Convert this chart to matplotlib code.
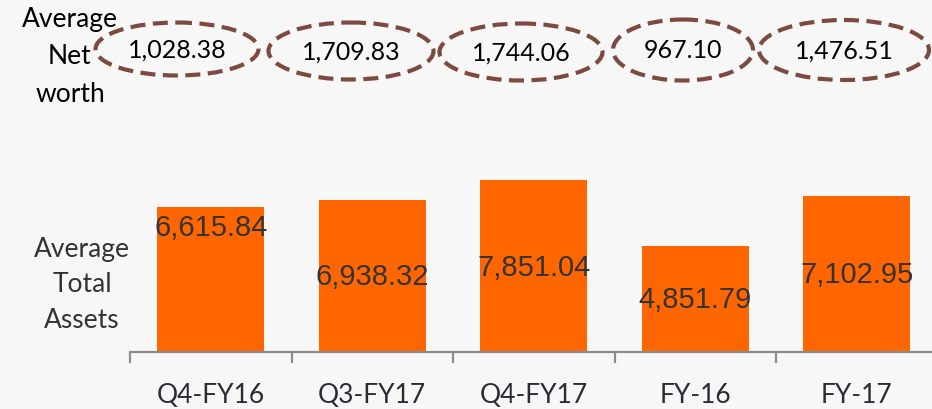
"""
Average net worth (ovals) and average total assets (bars) by period.
"""
import matplotlib
import matplotlib.pyplot as plt
from matplotlib.patches import Ellipse

# data
periods = ['Q4-FY16', 'Q3-FY17', 'Q4-FY17', 'FY-16', 'FY-17']
total_assets = [6615.84, 6938.32, 7851.04, 4851.79, 7102.95]
net_worth = [1028.38, 1709.83, 1744.06, 967.10, 1476.51]

# layout (pixels / data units)
label_y = [5650, 3420, 3830, 2370, 3510]
oval_x = [177, 351, 521, 683, 844]
oval_y = [49, 51, 52, 50, 50]
oval_w = [163, 165, 163, 140, 170]
oval_h = [53, 57, 57, 61, 60]

bg = '#f7f7f7'
bar_col = '#ff6600'
oval_col = '#7d4a3f'
axis_col = '#8c8c8c'
calibri = ['Lato', 'DejaVu Sans']
arial = ['Liberation Sans', 'DejaVu Sans']

W, H = 932, 409
fig = plt.figure(figsize=(W / 100, H / 100), dpi=100, facecolor=bg)

# bar axes: baseline at y=352px, categories 161.5px wide starting at x=130
ax = fig.add_axes([130 / W, (H - 352) / H, 807.5 / W, 182 / H])
ax.set_facecolor('none')
ax.bar(range(len(periods)), total_assets, width=0.66, color=bar_col, zorder=2)
ax.set_xlim(-0.5, len(periods) - 0.5)
ax.set_ylim(0, 182 * 45.6)
for i, v in enumerate(total_assets):
    ax.text(i, label_y[i], f'{v:,.2f}', ha='center', va='center',
            fontsize=21, color='#333333', family=arial, zorder=3)
for s in ['top', 'right', 'left']:
    ax.spines[s].set_visible(False)
ax.spines['bottom'].set_color(axis_col)
ax.spines['bottom'].set_linewidth(1.6)
ax.set_yticks([])
ax.set_xticks(range(len(periods)))
ax.set_xticklabels(periods, family=calibri, fontsize=19, color='#2b2b35')
ax.tick_params(axis='x', which='major', length=0, pad=22)
ax.set_xticks([i - 0.5 for i in range(len(periods) + 1)], minor=True)
ax.tick_params(axis='x', which='minor', length=8, width=1.6, color=axis_col,
               direction='out')

# overlay in pixel coordinates for the ovals and row labels
ov = fig.add_axes([0, 0, 1, 1])
ov.set_xlim(0, W)
ov.set_ylim(H, 0)
ov.axis('off')
ov.patch.set_alpha(0)
for i, v in enumerate(net_worth):
    ov.add_patch(Ellipse((oval_x[i], oval_y[i]), oval_w[i], oval_h[i],
                         fill=False, edgecolor=oval_col, linewidth=3,
                         linestyle=(0, (3.6, 1.8))))
    ov.text(oval_x[i], oval_y[i] + 1, f'{v:,.2f}', ha='center', va='center',
            fontsize=18, color='black', family=calibri)

ov.text(70, 57, 'Average\nNet\nworth', ha='center', va='center',
        fontsize=19, color='black', family=calibri, linespacing=1.6)
ov.text(82, 285, 'Average\nTotal\nAssets', ha='center', va='center',
        fontsize=19, color='#333333', family=calibri, linespacing=1.55)

plt.savefig('out.png', dpi=100, facecolor=bg)
plt.close()
